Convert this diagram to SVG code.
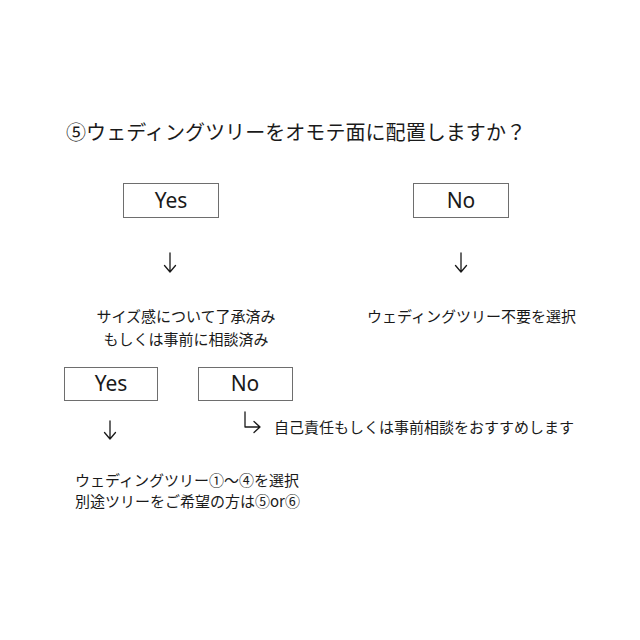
<svg xmlns="http://www.w3.org/2000/svg" width="640" height="640" viewBox="0 0 640 640">
<style>
.bg{fill:#ffffff}
.box{fill:#ffffff;stroke:#6e6e6e;stroke-width:1}
.lbl{font-family:"Noto Sans","Noto Sans CJK JP",sans-serif;font-size:21px;fill:#1a1a1a;text-anchor:middle}
.t{font-family:"Noto Sans CJK JP","Noto Sans",sans-serif;font-size:15px;fill:#1a1a1a}
.c{text-anchor:middle}
.title{font-family:"Liberation Serif","Noto Sans CJK JP",serif;font-size:20px;fill:#1a1a1a}
.arr{fill:none;stroke:#1a1a1a;stroke-width:1.3;stroke-linecap:round;stroke-linejoin:round}
</style>
<rect class="bg" x="0" y="0" width="640" height="640"/>
<text class="title" x="66" y="140" textLength="460" lengthAdjust="spacing">⑤ウェディングツリーをオモテ面に配置しますか？</text>
<g id="yes1"><rect class="box" x="123.5" y="183.5" width="95" height="34"/><text class="lbl" x="171" y="208">Yes</text></g>
<g id="no1"><rect class="box" x="413.5" y="183.5" width="95" height="34"/><text class="lbl" x="461" y="208">No</text></g>
<g id="connectors">
<path class="arr" d="M170 253V272M164.5 265.5L170 272L175.5 265.5"/>
<path class="arr" d="M461 253V272M455.5 265.5L461 272L466.5 265.5"/>
<path class="arr" d="M110 421V439M104.5 432.5L110 439L115.5 432.5"/>
<path class="arr" d="M245 412V427H260M254 421.5L260 427L254 432.5"/>
</g>
<g id="yes1-result"><text class="t c" x="186" y="322">サイズ感について了承済み</text><text class="t c" x="186" y="345">もしくは事前に相談済み</text></g>
<g id="no1-result"><text class="t" x="367" y="322">ウェディングツリー不要を選択</text></g>
<g id="yes2"><rect class="box" x="64.5" y="367.5" width="93" height="33"/><text class="lbl" x="111" y="391">Yes</text></g>
<g id="no2"><rect class="box" x="198.5" y="367.5" width="94" height="33"/><text class="lbl" x="245" y="391">No</text></g>
<g id="no2-result"><text class="t" x="274" y="433">自己責任もしくは事前相談をおすすめします</text></g>
<g id="yes2-result"><text class="t" x="75" y="486">ウェディングツリー①〜④を選択</text><text class="t" x="75" y="507">別途ツリーをご希望の方は⑤or⑥</text></g>
</svg>
